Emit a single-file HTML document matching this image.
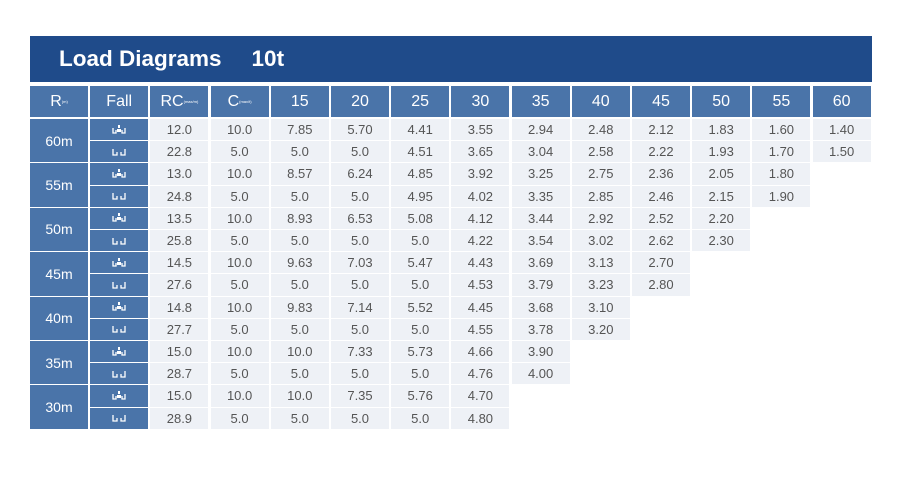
<!DOCTYPE html>
<html><head><meta charset="utf-8"><style>
body{margin:0;width:900px;height:496px;background:#fff;position:relative;overflow:hidden;font-family:"Liberation Sans",sans-serif}
.c{position:absolute;display:flex;align-items:center;justify-content:center;box-sizing:border-box}
.t{left:30px;top:36px;width:842px;height:46px;background:#1f4b8a;color:#fff;font-weight:bold;font-size:22.5px;justify-content:flex-start;padding-left:29px}
.h{background:#4a74a9;color:#fff;font-size:16px}
.l{background:#4a74a9;color:#fff;font-size:14px}
.d{background:#eef1f6;color:#555;font-size:13px}
sub{font-size:4px;vertical-align:baseline}
</style></head><body>
<div class="c t">Load Diagrams<span style="margin-left:30px">10t</span></div>
<script>
var W=60.2,L=30,cw=58,T=119,RH=22.2;
function cell(cls,i,y,w,h,txt){document.write('<div class="c '+cls+'" style="left:'+(L+i*W).toFixed(1)+'px;top:'+y.toFixed(1)+'px;width:'+w+'px;height:'+h.toFixed(1)+'px">'+txt+'</div>');}
var hd=['R<sub>(m)</sub>','Fall','RC<sub>(max/m)</sub>','C<sub>(max/t)</sub>','15','20','25','30','35','40','45','50','55','60'];
hd.forEach(function(h,i){cell('h',i,86,cw,31,h);});
var rows=[
['12.0','10.0','7.85','5.70','4.41','3.55','2.94','2.48','2.12','1.83','1.60','1.40'],
['22.8','5.0','5.0','5.0','4.51','3.65','3.04','2.58','2.22','1.93','1.70','1.50'],
['13.0','10.0','8.57','6.24','4.85','3.92','3.25','2.75','2.36','2.05','1.80'],
['24.8','5.0','5.0','5.0','4.95','4.02','3.35','2.85','2.46','2.15','1.90'],
['13.5','10.0','8.93','6.53','5.08','4.12','3.44','2.92','2.52','2.20'],
['25.8','5.0','5.0','5.0','5.0','4.22','3.54','3.02','2.62','2.30'],
['14.5','10.0','9.63','7.03','5.47','4.43','3.69','3.13','2.70'],
['27.6','5.0','5.0','5.0','5.0','4.53','3.79','3.23','2.80'],
['14.8','10.0','9.83','7.14','5.52','4.45','3.68','3.10'],
['27.7','5.0','5.0','5.0','5.0','4.55','3.78','3.20'],
['15.0','10.0','10.0','7.33','5.73','4.66','3.90'],
['28.7','5.0','5.0','5.0','5.0','4.76','4.00'],
['15.0','10.0','10.0','7.35','5.76','4.70'],
['28.9','5.0','5.0','5.0','5.0','4.80']];
var rl=['60m','55m','50m','45m','40m','35m','30m'];
rl.forEach(function(r,k){cell('l',0,T+k*2*RH,cw,2*RH-1,r);});
var ic1='<svg width="14" height="10" viewBox="0 0 14 10"><path d="M1 3v5h3v-3M10 5v3h3v-5" stroke="#fff" stroke-width="1.3" fill="none"/><rect x="5" y="4" width="4" height="3" fill="#fff"/><rect x="6" y="0" width="2" height="3" fill="#fff"/></svg>';
var ic2='<svg width="14" height="10" viewBox="0 0 14 10"><path d="M1 2v6h4v-3M9 5v3h4v-6" stroke="#fff" stroke-width="1.3" fill="none"/></svg>';
rows.forEach(function(r,k){
 var y=T+k*RH;
 cell('l',1,y,cw,RH-1,k%2==0?ic1:ic2);
 r.forEach(function(v,j){cell('d',j+2,y,cw,RH-1,v);});
});
</script>
</body></html>
